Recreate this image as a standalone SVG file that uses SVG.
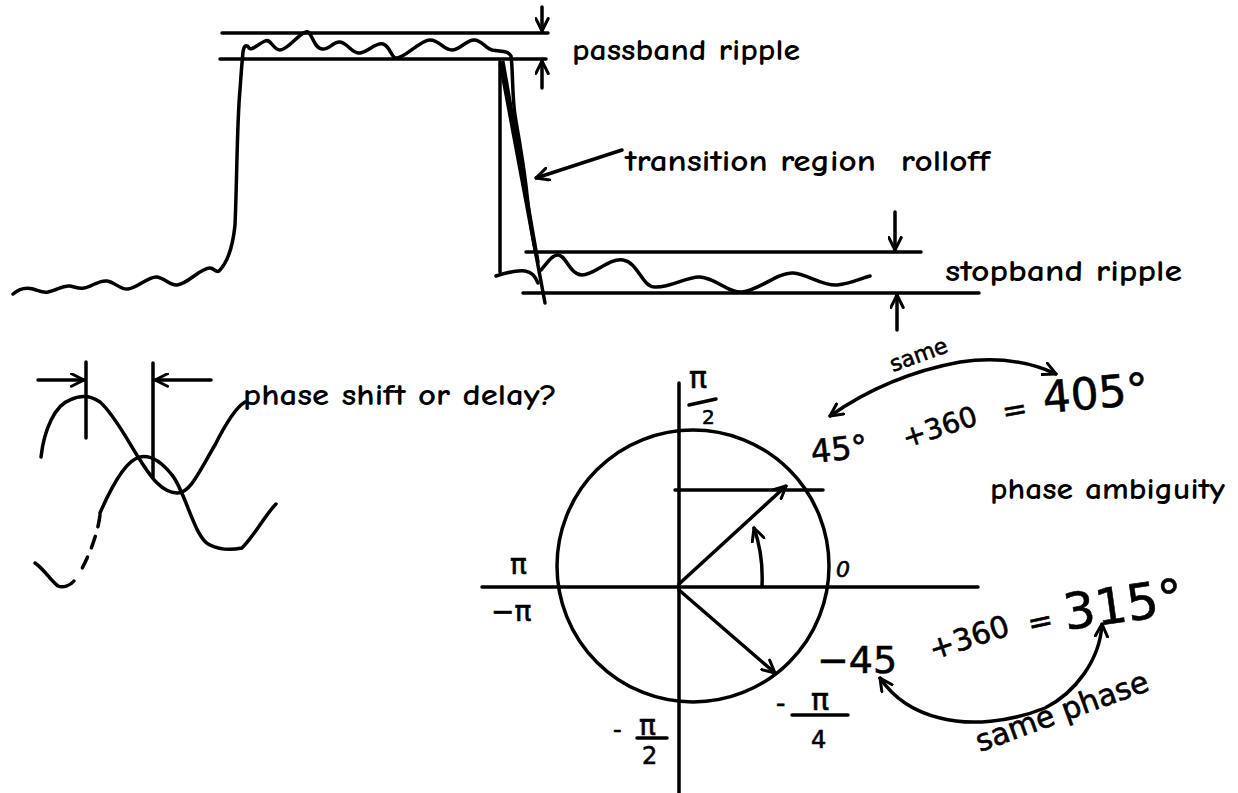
<svg xmlns="http://www.w3.org/2000/svg" width="1238" height="793" viewBox="0 0 1238 793">
<style>
.ln{stroke:#000;stroke-width:3.5;fill:none;stroke-linecap:round;stroke-linejoin:round}
.th{stroke:#000;stroke-width:3.5;fill:none;stroke-linecap:round;stroke-linejoin:round}
.t{font-family:"Comic Sans MS","Comic Neue","DejaVu Sans",sans-serif;font-size:30px;font-weight:700;fill:#000}
.h{font-family:"DejaVu Sans","Liberation Sans",sans-serif;fill:#000;stroke:#000;stroke-width:0.6}
</style>
<defs>
<marker id="ah" viewBox="0 0 12 12" refX="11" refY="6" markerWidth="15" markerHeight="15" markerUnits="userSpaceOnUse" orient="auto-start-reverse">
<path d="M1,1 L11,6 L1,11" fill="none" stroke="#000" stroke-width="2.4" stroke-linecap="round" stroke-linejoin="round"/>
</marker>
</defs>
<rect width="1238" height="793" fill="#fff"/>

<g id="filter-response">
<path class="ln" d="M13,294 C20,288 26,287 33,289 C40,291 42,293 48,292 C58,290 62,285 70,286 C76,287 78,289 84,288 C92,287 98,280 107,281 C115,282 120,290 128,289 C138,288 148,276 157,277 C165,278 170,286 177,285 C188,284 200,268 210,268 C214,268 216,273 219,271 C228,262 233,245 235,225 C237,180 237,120 240,90 C241,75 242,62 243,52 C244,45 247,44 249,48 C252,51 258,44 265,41 C271,38 273,50 280,50 C288,50 298,34 306,32 C312,30 313,48 322,49 C330,50 333,41 340,42 C348,43 352,54 360,53 C368,52 376,42 383,44 C390,46 391,57 396,58 C404,59 420,40 430,40 C440,40 443,50 452,50 C460,50 466,40 474,40 C482,40 485,48 492,50 C500,52 508,50 511,56 C513,70 512,95 515,115 C519,140 524,165 527,195 C530,225 534,245 537,258"/>
<path class="ln" d="M500,62 L545,303"/>
<path class="ln" d="M503,62 L538,262"/>
<path class="ln" d="M500,64 L500,272"/>
<path class="ln" d="M496,276 C505,273 515,270 525,271 C532,272 535,276 538,283"/>
<path class="ln" d="M541,270 C548,262 552,255 558,255 C566,255 570,275 582,275 C595,275 608,258 623,260 C638,262 642,287 655,287 C670,288 688,276 700,277 C716,278 728,293 742,292 C758,291 778,272 793,273 C808,274 822,286 837,285 C850,284 862,278 870,276"/>
</g>

<g id="passband-limits">
<line class="ln" x1="222" y1="33" x2="548" y2="33"/>
<line class="ln" x1="220" y1="59" x2="546" y2="59"/>
</g>
<g id="stopband-limits">
<line class="ln" x1="526" y1="252" x2="921" y2="252"/>
<line class="ln" x1="523" y1="293" x2="979" y2="293"/>
</g>

<g id="connectors">
<line class="ln" x1="542" y1="7" x2="542" y2="31" marker-end="url(#ah)"/>
<line class="ln" x1="542" y1="88" x2="542" y2="61" marker-end="url(#ah)"/>
<line class="ln" x1="622" y1="150" x2="536" y2="178" marker-end="url(#ah)"/>
<line class="ln" x1="895" y1="212" x2="895" y2="250" marker-end="url(#ah)"/>
<line class="ln" x1="897" y1="330" x2="897" y2="295" marker-end="url(#ah)"/>
<line class="ln" x1="38" y1="380" x2="84" y2="380" marker-end="url(#ah)"/>
<line class="ln" x1="211" y1="380" x2="155" y2="380" marker-end="url(#ah)"/>
<path class="ln" d="M679,584 L786,486" marker-end="url(#ah)"/>
<path class="ln" d="M679,590 L775,673" marker-end="url(#ah)"/>
<path class="ln" d="M762,586 C763,565 760,545 754,528" marker-end="url(#ah)"/>
<path class="ln" d="M830,416 C860,395 900,373 960,362 C1000,356 1030,362 1056,374" marker-start="url(#ah)" marker-end="url(#ah)"/>
<path class="ln" d="M880,678 C895,700 915,712 940,718 C970,726 1010,722 1045,708 C1075,693 1100,660 1102,624" marker-start="url(#ah)" marker-end="url(#ah)"/>
</g>

<g id="labels-top">
<text class="t" x="572" y="60" textLength="228" lengthAdjust="spacingAndGlyphs">passband ripple</text>
<text class="t" x="625" y="171" textLength="365" lengthAdjust="spacingAndGlyphs" xml:space="preserve">transition region  rolloff</text>
<text class="t" x="945" y="281" textLength="237" lengthAdjust="spacingAndGlyphs">stopband ripple</text>
</g>

<g id="phase-shift">
<line class="ln" x1="86" y1="362" x2="86" y2="438"/>
<line class="ln" x1="153" y1="363" x2="153" y2="477"/>
<path class="ln" d="M41,457 C44,430 55,405 70,400 C80,395 90,395 100,402 C115,415 130,445 140,460 C150,475 160,492 177,493 C190,494 200,470 215,445 C225,425 235,408 245,402"/>
<path class="ln" d="M100,513 C110,490 125,460 140,457 C150,455 160,460 172,475 C185,490 195,540 210,545 C220,550 232,550 242,548 C255,535 265,515 276,504"/>
<path class="ln" d="M100,515 C98,532 90,555 79,574" stroke-dasharray="12,10"/>
<path class="ln" d="M74,581 C70,586 63,588 58,586 C50,580 45,570 35,563"/>
<text class="t" x="243" y="405" textLength="314" lengthAdjust="spacingAndGlyphs">phase shift or delay?</text>
</g>

<g id="phase-circle">
<ellipse class="ln" cx="693" cy="566" rx="136" ry="136"/>
<line class="ln" x1="679" y1="383" x2="679" y2="793"/>
<line class="ln" x1="482" y1="587" x2="978" y2="587"/>
<line class="ln" x1="675" y1="490" x2="823" y2="490"/>
</g>

<g id="circle-labels">
<text class="h" x="689" y="388" font-size="30">π</text>
<line class="th" x1="689" y1="405" x2="716" y2="399"/>
<text class="h" x="702" y="424" font-size="20">2</text>
<text class="h" x="510" y="574" font-size="28">π</text>
<text class="h" x="491" y="621" font-size="28">−π</text>
<text class="h" x="836" y="577" font-size="22" font-style="italic">0</text>
<text class="h" x="812" y="463" font-size="32" transform="rotate(-6 812 463)">45°</text>
<text class="h" x="776" y="712" font-size="26">-</text>
<text class="h" x="811" y="710" font-size="30">π</text>
<line class="th" x1="792" y1="715" x2="848" y2="715"/>
<text class="h" x="811" y="748" font-size="24">4</text>
<text class="h" x="613" y="738" font-size="24">-</text>
<text class="h" x="639" y="735" font-size="28">π</text>
<line class="th" x1="637" y1="738" x2="667" y2="738"/>
<text class="h" x="642" y="764" font-size="24">2</text>
</g>

<g id="ambiguity-labels">
<text class="h" x="893" y="372" font-size="22" transform="rotate(-20 893 372)">same</text>
<text class="h" x="906" y="448" font-size="28" transform="rotate(-18 906 448)">+360</text>
<text class="h" x="1004" y="422" font-size="30" transform="rotate(-10 1004 422)">=</text>
<text class="h" x="1044" y="413" font-size="44" transform="rotate(-5 1044 413)">405°</text>
<text class="t" x="990" y="499" textLength="235" lengthAdjust="spacingAndGlyphs">phase ambiguity</text>
<text class="h" x="817" y="673" font-size="38">−45</text>
<text class="h" x="933" y="660" font-size="30" transform="rotate(-18 933 660)">+360</text>
<text class="h" x="1030" y="634" font-size="30" transform="rotate(-12 1030 634)">=</text>
<text class="h" x="1066" y="630" font-size="50" transform="rotate(-8 1066 630)">315°</text>
<text class="h" x="980" y="752" font-size="30" transform="rotate(-20 980 752)">same phase</text>
</g>
</svg>
